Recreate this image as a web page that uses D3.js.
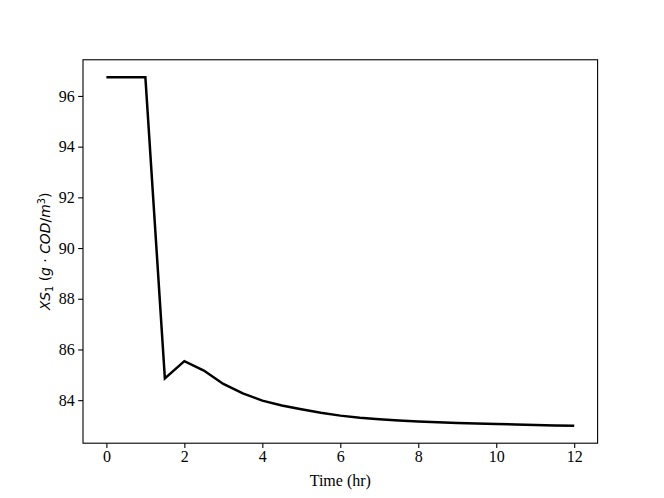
<!DOCTYPE html>
<html><head><meta charset="utf-8">
<script src="https://cdn.jsdelivr.net/npm/d3@7"></script>
<style>body{margin:0;background:#fff}svg{display:block}</style>
</head><body>
<script>
const timeHr = [0,0.5,1,1.5,2,2.5,3,3.5,4,4.5,5,5.5,6,6.5,7,7.5,8,8.5,9,9.5,10,10.5,11,11.5,12];
const xs1 = [96.74,96.74,96.74,84.86,85.54,85.17,84.64,84.27,83.98,83.79,83.64,83.50,83.39,83.31,83.25,83.20,83.16,83.13,83.10,83.08,83.06,83.04,83.02,83.005,82.99];
const xTicks = [0,2,4,6,8,10,12];
const yTicks = [84,86,88,90,92,94,96];

const W=664,H=498;
const L=83,R=597.6,T=59.76,B=443.2;
const svg=d3.select("body").append("svg").attr("width",W).attr("height",H);
svg.append("rect").attr("width",W).attr("height",H).attr("fill","#fff");

function padExtent(a){const mn=d3.min(a),mx=d3.max(a),p=(mx-mn)*0.05;return [mn-p,mx+p];}
const x=d3.scaleLinear().domain(padExtent(timeHr)).range([L,R]);
const y=d3.scaleLinear().domain(padExtent(xs1)).range([B,T]);

const serif="'Liberation Serif','Times New Roman',serif";
const fs="16px";
const xAxis=svg.append("g").attr("transform",`translate(0,${B})`)
  .call(d3.axisBottom(x).tickValues(xTicks).tickSize(4.86).tickPadding(3).tickFormat(d3.format("d")));
const yAxis=svg.append("g").attr("transform",`translate(${L},0)`)
  .call(d3.axisLeft(y).tickValues(yTicks).tickSize(4.86).tickPadding(3.5).tickFormat(d3.format("d")));
[xAxis,yAxis].forEach(g=>{
  g.select(".domain").remove();
  g.selectAll(".tick line").attr("stroke","#000").attr("stroke-width",1.1);
  g.selectAll(".tick text").attr("fill","#000").style("font-family",serif).style("font-size",fs);
});

svg.append("rect").attr("x",L).attr("y",T).attr("width",R-L).attr("height",B-T)
  .attr("fill","none").attr("stroke","#000").attr("stroke-width",1.1);

svg.append("path").datum(timeHr.map((t,i)=>[t,xs1[i]]))
  .attr("fill","none").attr("stroke","#000").attr("stroke-width",2.5).attr("stroke-linejoin","miter")
  .attr("d",d3.line().x(d=>x(d[0])).y(d=>y(d[1])));

svg.append("text").attr("x",(L+R)/2).attr("y",486).attr("text-anchor","middle")
  .style("font-family",serif).style("font-size",fs).attr("fill","#000").text("Time (hr)");

const yl=svg.append("text").attr("transform",`translate(50,${(T+B)/2}) rotate(-90)`).attr("text-anchor","middle")
  .style("font-family","'DejaVu Sans',sans-serif").style("font-size","13.9px").attr("fill","#000");
yl.append("tspan").style("font-style","italic").text("XS");
yl.append("tspan").attr("font-size","9.7px").attr("dy","3").text("1");
yl.append("tspan").attr("dy","-3").text(" (");
yl.append("tspan").style("font-style","italic").text("g");
yl.append("tspan").text(" · ");
yl.append("tspan").style("font-style","italic").text("COD");
yl.append("tspan").text("/");
yl.append("tspan").style("font-style","italic").text("m");
yl.append("tspan").attr("font-size","9.7px").attr("dy","-5").text("3");
yl.append("tspan").attr("dy","5").text(")");
</script>
</body></html>
